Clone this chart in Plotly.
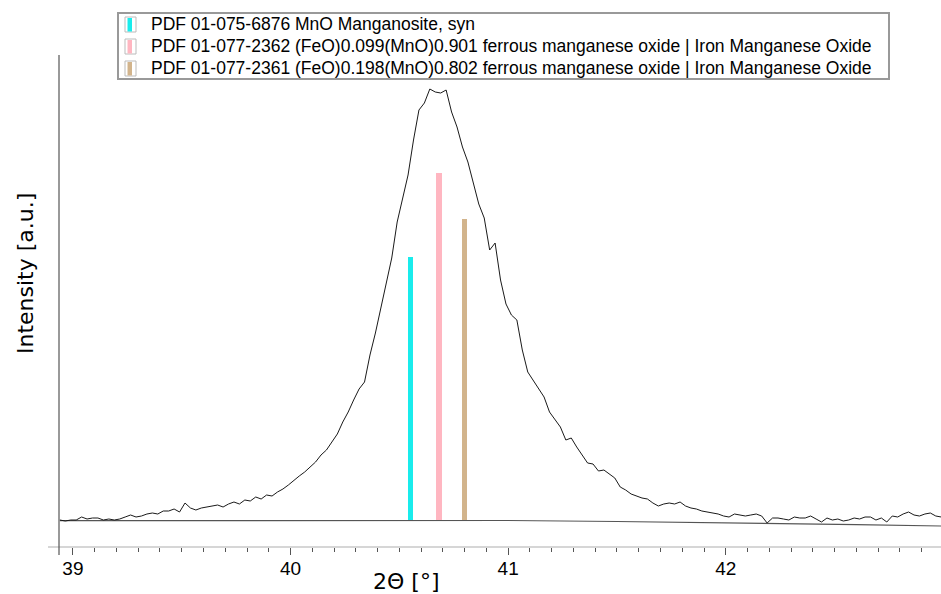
import plotly.graph_objects as go

# ---------------- data ----------------
two_theta = [
    38.940, 38.965, 38.990, 39.015, 39.040, 39.065, 39.090, 39.115, 39.140, 39.165,
    39.190, 39.215, 39.240, 39.265, 39.290, 39.315, 39.340, 39.365, 39.390, 39.415,
    39.440, 39.465, 39.490, 39.515, 39.540, 39.565, 39.590, 39.615, 39.640, 39.665,
    39.690, 39.715, 39.740, 39.765, 39.790, 39.815, 39.840, 39.865, 39.890, 39.915,
    39.940, 39.965, 39.990, 40.015, 40.040, 40.065, 40.090, 40.115, 40.140, 40.165,
    40.190, 40.215, 40.240, 40.265, 40.290, 40.315, 40.340, 40.365, 40.390, 40.415,
    40.440, 40.465, 40.490, 40.515, 40.540, 40.565, 40.590, 40.615, 40.640, 40.665,
    40.690, 40.715, 40.740, 40.765, 40.790, 40.815, 40.840, 40.865, 40.890, 40.915,
    40.940, 40.965, 40.990, 41.015, 41.040, 41.065, 41.090, 41.115, 41.140, 41.165,
    41.190, 41.215, 41.240, 41.265, 41.290, 41.315, 41.340, 41.365, 41.390, 41.415,
    41.440, 41.465, 41.490, 41.515, 41.540, 41.565, 41.590, 41.615, 41.640, 41.665,
    41.690, 41.715, 41.740, 41.765, 41.790, 41.815, 41.840, 41.865, 41.890, 41.915,
    41.940, 41.965, 41.990, 42.015, 42.040, 42.065, 42.090, 42.115, 42.140, 42.165,
    42.190, 42.215, 42.240, 42.265, 42.290, 42.315, 42.340, 42.365, 42.390, 42.415,
    42.440, 42.465, 42.490, 42.515, 42.540, 42.565, 42.590, 42.615, 42.640, 42.665,
    42.690, 42.715, 42.740, 42.765, 42.790, 42.815, 42.840, 42.865, 42.890, 42.915,
    42.940, 42.965, 42.990,
]
intensity = [
    540, 520, 540, 540, 600, 560, 580, 580, 540, 560,
    540, 560, 600, 640, 600, 620, 660, 680, 660, 720,
    720, 760, 700, 880, 780, 740, 780, 800, 820, 840,
    800, 860, 900, 860, 940, 920, 1000, 960, 1040, 1020,
    1100, 1160, 1240, 1340, 1420, 1500, 1600, 1700, 1840, 1940,
    2100, 2260, 2500, 2700, 2940, 3160, 3300, 3840, 4280, 4780,
    5220, 5780, 6500, 6940, 7440, 8140, 8740, 8880, 9160, 9100,
    9080, 9140, 8700, 8400, 8000, 7700, 7300, 6860, 6580, 5940,
    6080, 5340, 4860, 4640, 4540, 3940, 3500, 3340, 3160, 3000,
    2700, 2540, 2400, 2140, 2180, 2000, 1840, 1680, 1660, 1520,
    1540, 1460, 1380, 1200, 1140, 1060, 1020, 980, 960, 880,
    820, 860, 880, 860, 900, 820, 780, 760, 720, 700,
    680, 660, 620, 600, 660, 640, 620, 640, 660, 620,
    480, 580, 580, 560, 540, 600, 580, 580, 620, 560,
    500, 580, 540, 560, 520, 540, 580, 560, 600, 600,
    540, 580, 500, 620, 600, 660, 700, 640, 620, 660,
    680, 620, 600,
]

# fitted background
bg_theta = [38.94, 41.0, 41.5, 41.9, 42.2, 42.6, 42.99]
bg_intensity = [526, 530, 510, 490, 466, 446, 420]

# reference pattern sticks
ref_labels = [
    "PDF 01-075-6876 MnO Manganosite, syn",
    "PDF 01-077-2362 (FeO)0.099(MnO)0.901 ferrous manganese oxide | Iron Manganese Oxide",
    "PDF 01-077-2361 (FeO)0.198(MnO)0.802 ferrous manganese oxide | Iron Manganese Oxide",
]
ref_theta = [40.551, 40.682, 40.799]
ref_top = [5800, 7490, 6570]
ref_base = [520, 520, 520]
ref_colors = ["#19ECEC", "#FFB6C1", "#D2B48C"]

x_ticks = [39, 40, 41, 42]
x_title = "2Θ [°]"
y_title = "Intensity [a.u.]"

# ---------------- figure ----------------
W, H = 941, 594
ML, MR, MT, MB = 59, 0, 55, 47
PW, PH = W - ML - MR, H - MT - MB


def px(xp):
    return (xp - ML) / PW


def py(yp):
    return (H - MB - yp) / PH


fig = go.Figure()

fig.add_trace(go.Bar(
    x=ref_theta,
    y=[t - b for t, b in zip(ref_top, ref_base)],
    base=ref_base,
    width=0.024,
    marker=dict(color=ref_colors, line=dict(width=0)),
    showlegend=False,
    hoverinfo="skip",
))

fig.add_trace(go.Scatter(
    x=bg_theta, y=bg_intensity, mode="lines",
    line=dict(color="#555555", width=1.2),
    showlegend=False, hoverinfo="skip",
))

fig.add_trace(go.Scatter(
    x=two_theta, y=intensity, mode="lines",
    line=dict(color="#1a1a1a", width=1),
    showlegend=False,
))

shapes = []
# x axis line (extends slightly left of the y axis)
shapes.append(dict(type="line", xref="paper", yref="paper",
                   x0=px(48), x1=1, y0=0, y1=0,
                   line=dict(color="#c8c8c8", width=1.3), layer="above"))
# y axis line
shapes.append(dict(type="line", xref="paper", yref="paper",
                   x0=0, x1=0, y0=py(555), y1=1,
                   line=dict(color="#555555", width=1.2), layer="above"))

# legend box
shapes.append(dict(type="rect", xref="paper", yref="paper",
                   x0=px(118), x1=px(889), y0=py(79), y1=py(13),
                   line=dict(color="#999999", width=2), fillcolor="white",
                   layer="above"))

annotations = []
row_y = [24, 46, 68]
for lab, col, ry in zip(ref_labels, ref_colors, row_y):
    shapes.append(dict(type="rect", xref="paper", yref="paper",
                       x0=px(125), x1=px(136), y0=py(ry + 8), y1=py(ry - 7),
                       line=dict(color="#bbbbbb", width=1), fillcolor="white",
                       layer="above"))
    shapes.append(dict(type="rect", xref="paper", yref="paper",
                       x0=px(127.5), x1=px(132), y0=py(ry + 7.5), y1=py(ry - 6),
                       line=dict(width=0), fillcolor=col, layer="above"))
    annotations.append(dict(
        text=lab, xref="paper", yref="paper", x=px(149), y=py(ry),
        xanchor="left", yanchor="middle", showarrow=False,
        font=dict(family="Liberation Sans, Arial", size=17.5, color="black"),
    ))

annotations.append(dict(
    text=x_title, xref="paper", yref="paper", x=px(406), y=py(581),
    xanchor="center", yanchor="middle", showarrow=False,
    font=dict(family="DejaVu Sans", size=22, color="black"),
))
annotations.append(dict(
    text=y_title, xref="paper", yref="paper", x=px(25), y=py(274),
    xanchor="center", yanchor="middle", showarrow=False, textangle=-90,
    font=dict(family="DejaVu Sans", size=22, color="black"),
))

fig.update_layout(
    width=W, height=H,
    margin=dict(l=ML, r=MR, t=MT, b=MB, pad=0),
    paper_bgcolor="white", plot_bgcolor="white",
    bargap=0,
    shapes=shapes,
    annotations=annotations,
    xaxis=dict(
        range=[38.936, 42.989],
        tickmode="array", tickvals=x_ticks, ticktext=[str(t) for t in x_ticks],
        ticks="outside", ticklen=7, tickwidth=1, tickcolor="#555555",
        ticklabelstandoff=-3,
        minor=dict(dtick=0.1, ticks="outside", ticklen=4, tickwidth=1,
                   tickcolor="#555555", showgrid=False),
        tickfont=dict(family="Liberation Sans, Arial", size=19, color="black"),
        showline=False, showgrid=False, zeroline=False,
    ),
    yaxis=dict(
        range=[0, 9840],
        showticklabels=False, ticks="", showline=False,
        showgrid=False, zeroline=False,
    ),
)

fig.write_html("out.html")
